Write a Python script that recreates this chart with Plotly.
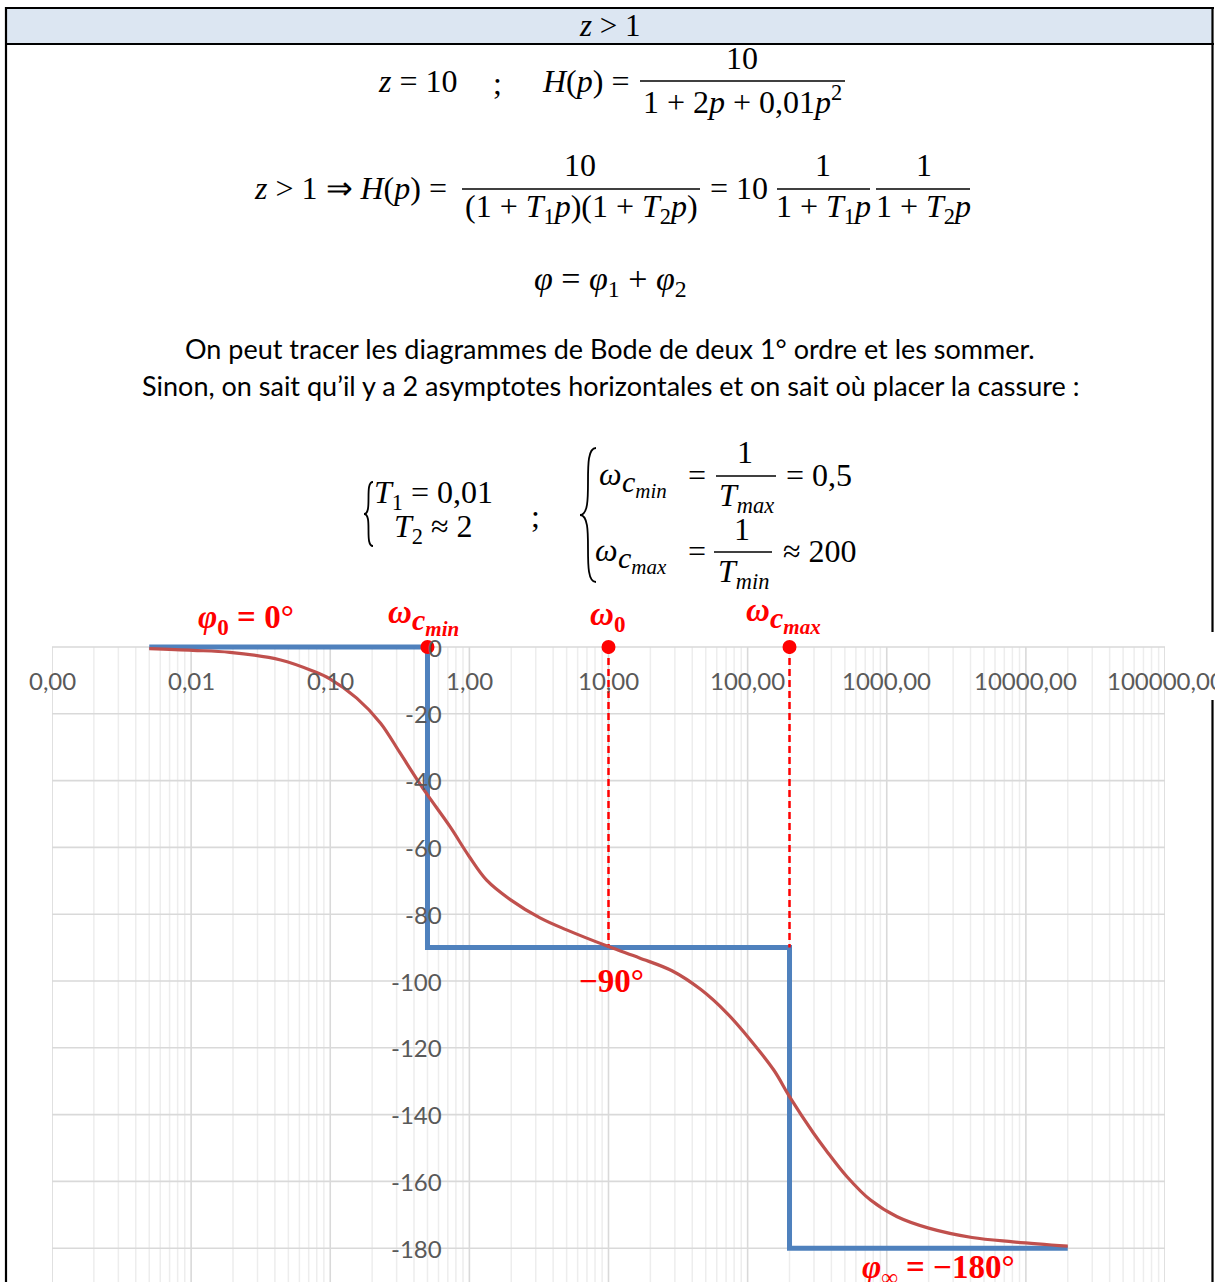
import math
import plotly.graph_objects as go

W, H = 1215, 1282
SERIF = "Liberation Serif"
SANS = "Lato"
BLUE = "#4F81BD"
CURVE = "#C0504D"
RED = "#FF0000"
TICK = "#595959"
M = 32          # math font size
CALL = 33       # call-out font size in the chart
SUBM = 30       # size of the "c_min" / "c_max" indices

# ---- data -------------------------------------------------------------
# phase of H(jw) = 10 / (1 + 2p + 0.01p^2), degrees
omega = [0.005, 0.0103, 0.019, 0.044, 0.075, 0.1, 0.155, 0.23, 0.315, 0.42,
         0.5, 0.726, 1.0, 1.33, 1.98, 3.22, 5.0, 10, 16.7, 28.8, 45.9, 70.9,
         104, 155, 200, 297, 368, 518, 765, 1188, 2003, 4100, 8100, 20000]
phase = [-0.5, -1.0, -1.6, -3.9, -7.2, -9.6, -15.3, -22.8, -31.5, -39.6,
         -44.3, -53.8, -62.8, -69.8, -75.7, -81.1, -84.7, -89.7, -93.1, -97.0,
         -102.5, -109.6, -117.5, -126.8, -134.6, -145.5, -150.8, -158.6,
         -165.6, -170.6, -174.0, -176.8, -178.1, -179.4]

# asymptotic phase diagram
asym_omega = [0.005, 0.5, 0.5, 200, 200, 20000]
asym_phase = [0, 0, -90, -90, -180, -180]

# characteristic pulsations: w_cmin, w0, w_cmax
mark_omega = [0.5, 10, 200]
dash_omega = [10, 200]
dash_phase = [0, -90]

x_tick_vals = [0.001, 0.01, 0.1, 1, 10, 100, 1000, 10000, 100000]
x_tick_text = ["0,00", "0,01", "0,10", "1,00", "10,00", "100,00",
               "1000,00", "10000,00", "100000,00"]
y_tick_vals = [0, -20, -40, -60, -80, -100, -120, -140, -160, -180]
y_tick_text = ["0", "-20", "-40", "-60", "-80", "-100", "-120", "-140",
               "-160", "-180"]
y_grid_vals = y_tick_vals + [-200]

# ---- geometry ----------------------------------------------------------
X_LEFT, X_RIGHT = 52, 1165          # plot area, pixels
Y_ZERO, PX_PER_DEG = 647, 3.34
Y_TOP_DEG = 3
plot_top_px = Y_ZERO - Y_TOP_DEG * PX_PER_DEG
y_bottom_deg = -(H - Y_ZERO) / PX_PER_DEG


def px_to_logx(px):
    return (px - X_LEFT) / (X_RIGHT - X_LEFT) * 8 - 3


def px_to_deg(py):
    return -(py - Y_ZERO) / PX_PER_DEG


fig = go.Figure()

# grid lines (light minor, grey major)
minor_x = [k * 10 ** d for d in range(-3, 5) for k in range(2, 10)]
gx, gy = [], []
for v in minor_x:
    gx += [v, v, None]
    gy += [0, y_grid_vals[-1], None]
fig.add_trace(go.Scatter(x=gx, y=gy, mode="lines", hoverinfo="skip",
                         line=dict(color="#EDEDED", width=1.5), showlegend=False))
gx, gy = [], []
for v in x_tick_vals:
    gx += [v, v, None]
    gy += [0, y_grid_vals[-1], None]
for v in y_grid_vals:
    gx += [x_tick_vals[0], x_tick_vals[-1], None]
    gy += [v, v, None]
fig.add_trace(go.Scatter(x=gx, y=gy, mode="lines", hoverinfo="skip",
                         line=dict(color="#D9D9D9", width=1.6), showlegend=False))

# asymptotes
fig.add_trace(go.Scatter(x=asym_omega, y=asym_phase, mode="lines",
                         line=dict(color=BLUE, width=5), showlegend=False))
# dashed guides for w0 and w_cmax
for w in dash_omega:
    fig.add_trace(go.Scatter(x=[w, w], y=dash_phase, mode="lines",
                             line=dict(color=RED, width=2.5, dash="7px,4px"),
                             showlegend=False))
# real phase curve
fig.add_trace(go.Scatter(x=omega, y=phase, mode="lines",
                         line=dict(color=CURVE, width=3.2, shape="spline",
                                   smoothing=1.0),
                         showlegend=False))
# characteristic points
fig.add_trace(go.Scatter(x=mark_omega, y=[0] * len(mark_omega), mode="markers",
                         marker=dict(color=RED, size=14), cliponaxis=False,
                         showlegend=False))

ann = []


def txt(px, py, s, size=M, color="black", family=SERIF, xa="center"):
    ann.append(dict(x=px / W, y=1 - py / H, xref="paper", yref="paper",
                    text=s, showarrow=False, xanchor=xa, yanchor="middle",
                    font=dict(size=size, color=color, family=family)))


# axis labels
for v, t in zip(x_tick_vals, x_tick_text):
    ann.append(dict(x=math.log10(v), y=px_to_deg(680), xref="x", yref="y",
                    text=t, showarrow=False, xanchor="center", yanchor="middle",
                    font=dict(size=24, color=TICK, family=SANS)))
for v, t in zip(y_tick_vals, y_tick_text):
    ann.append(dict(x=px_to_logx(444), y=v, xref="x", yref="y",
                    text=t, showarrow=False, xanchor="right", yanchor="middle",
                    font=dict(size=24, color=TICK, family=SANS)))

# header
txt(610, 26, "<i>z</i> > 1", 31)

# H(p) definition
txt(418, 81, "<i>z</i> = 10")
txt(497, 83, ";")
txt(585, 81, "<i>H</i>(<i>p</i>) =")
txt(742, 58, "10")
txt(742, 100, "1 + 2<i>p</i> + 0,01<i>p</i><sup>2</sup>")

# factorised form
txt(350, 188, "<i>z</i> > 1 ⇒ <i>H</i>(<i>p</i>) =")
txt(580, 165, "10")
txt(581, 209, "(1 + <i>T</i><sub>1</sub><i>p</i>)(1 + <i>T</i><sub>2</sub><i>p</i>)")
txt(739, 188, "= 10")
txt(823, 165, "1")
txt(823, 209, "1 + <i>T</i><sub>1</sub><i>p</i>")
txt(924, 165, "1")
txt(923, 209, "1 + <i>T</i><sub>2</sub><i>p</i>")

txt(610, 281, "<i>φ</i> = <i>φ</i><sub>1</sub> + <i>φ</i><sub>2</sub>", 34)

txt(610, 349, "On peut tracer les diagrammes de Bode de deux 1° ordre et les sommer.", 27, family=SANS)
txt(610, 385, "Sinon, on sait qu’il y a 2 asymptotes horizontales et on sait où placer la cassure :", 27, family=SANS)

# time constants and corner pulsations
txt(433, 494, "<i>T</i><sub>1</sub> = 0,01")
txt(433, 529, "<i>T</i><sub>2</sub> ≈ 2")
txt(535, 516, ";")
txt(610, 474, "<i>ω</i>")
txt(620, 484, "<i>c</i><sub><i>min</i></sub>", SUBM, xa="left")
txt(697, 475, "=")
txt(745, 452, "1")
txt(746, 497, "<i>T</i><sub><i>max</i></sub>")
txt(819, 475, "= 0,5")
txt(606, 550, "<i>ω</i>")
txt(616, 560, "<i>c</i><sub><i>max</i></sub>", SUBM, xa="left")
txt(697, 551, "=")
txt(742, 529, "1")
txt(743, 573, "<i>T</i><sub><i>min</i></sub>")
txt(820, 551, "≈ 200")

# chart call-outs
txt(246, 620, "<b><i>φ</i><sub>0</sub> = 0°</b>", CALL, RED)
txt(400, 612, "<b><i>ω</i></b>", CALL, RED)
txt(410, 622, "<b><i>c</i><sub><i>min</i></sub></b>", SUBM, RED, xa="left")
txt(607, 616, "<b><i>ω</i><sub>0</sub></b>", CALL, RED)
txt(758, 610, "<b><i>ω</i></b>", CALL, RED)
txt(768, 620, "<b><i>c</i><sub><i>max</i></sub></b>", SUBM, RED, xa="left")
txt(611, 981, "<b>−90°</b>", CALL, RED)
txt(938, 1269, "<b><i>φ</i><sub>∞</sub> = −180°</b>", CALL, RED)

shapes = []


def pline(x0, y0, x1, y1, width=1.5, color="black"):
    shapes.append(dict(type="line", xref="paper", yref="paper",
                       x0=x0 / W, y0=1 - y0 / H, x1=x1 / W, y1=1 - y1 / H,
                       line=dict(color=color, width=width), layer="above"))


def brace(tip_x, top, bot, width):
    mid = (top + bot) / 2
    pts = [(tip_x + width, top), (tip_x, top), (tip_x + width, mid), (tip_x, mid),
           (tip_x + width, mid), (tip_x, bot), (tip_x + width, bot)]
    p = [(x / W, 1 - y / H) for x, y in pts]
    path = ("M {0[0]},{0[1]} C {1[0]},{1[1]} {2[0]},{2[1]} {3[0]},{3[1]} "
            "C {4[0]},{4[1]} {5[0]},{5[1]} {6[0]},{6[1]}").format(*p)
    shapes.append(dict(type="path", xref="paper", yref="paper", path=path,
                       line=dict(color="black", width=1.8), layer="above"))


# table frame
shapes.append(dict(type="rect", xref="paper", yref="paper",
                   x0=6 / W, x1=1212 / W, y0=1 - 43 / H, y1=1 - 9 / H,
                   fillcolor="#DCE6F2", line=dict(width=0), layer="below"))
pline(5, 8, 1214, 8, 2)
pline(5, 44, 1214, 44, 2)
pline(6, 7, 6, H, 2.2)
pline(1212.5, 7, 1212.5, 632, 2.2)
pline(1212.5, 700, 1212.5, H, 2.2)

# fraction bars
pline(640, 81, 845, 81)
pline(462, 189, 700, 189)
pline(777, 189, 870, 189)
pline(876, 189, 970, 189)
pline(716, 476, 776, 476)
pline(714, 552, 772, 552)

brace(364, 482, 546, 9)
brace(580, 448, 582, 16)

fig.update_layout(
    width=W, height=H,
    margin=dict(l=0, r=0, t=0, b=0),
    paper_bgcolor="white", plot_bgcolor="white",
    annotations=ann, shapes=shapes,
    xaxis=dict(type="log", range=[-3, 5],
               domain=[X_LEFT / W, X_RIGHT / W],
               showgrid=False, zeroline=False, showticklabels=False,
               showline=False, ticks=""),
    yaxis=dict(range=[y_bottom_deg, Y_TOP_DEG],
               domain=[0, 1 - plot_top_px / H],
               showgrid=False, zeroline=False, showticklabels=False,
               showline=False, ticks=""),
)

fig.write_html("out.html")
